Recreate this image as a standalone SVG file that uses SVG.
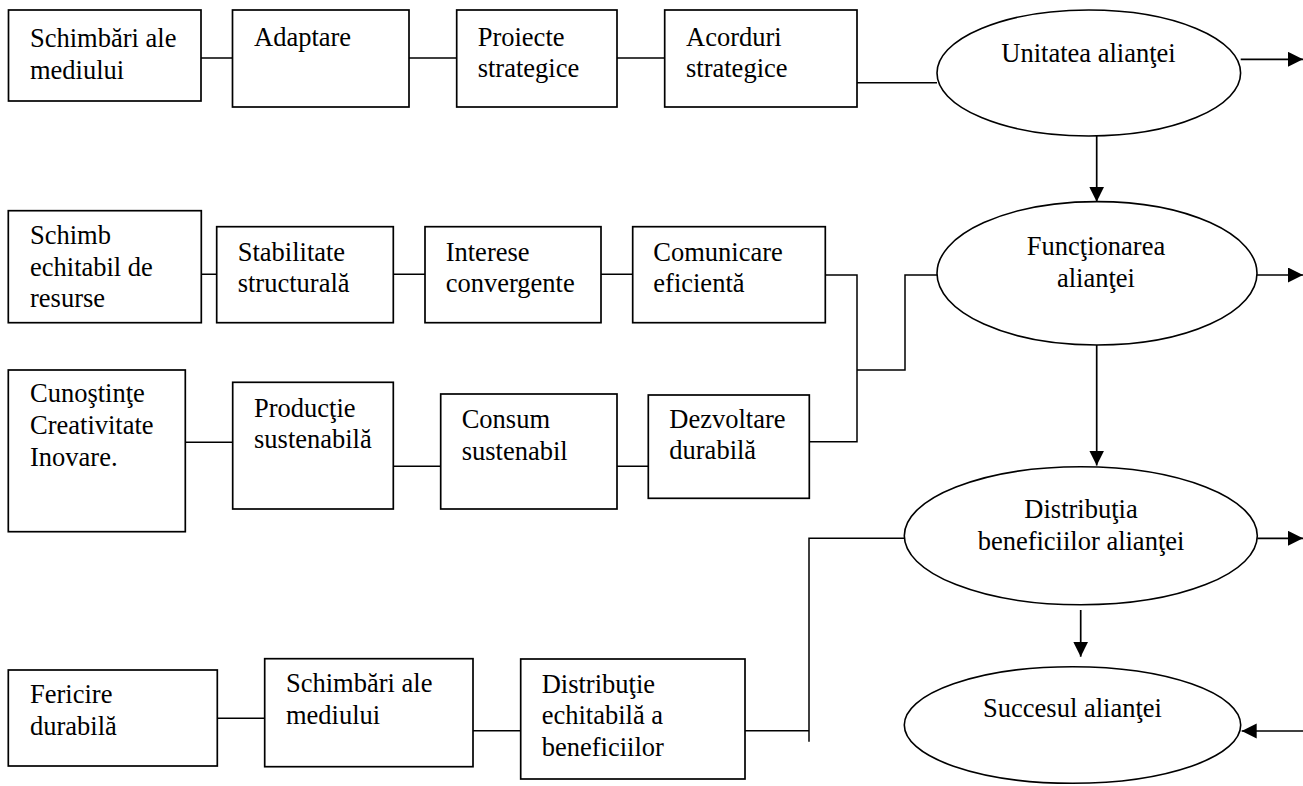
<svg xmlns="http://www.w3.org/2000/svg" width="1303" height="786" viewBox="0 0 1303 786">
<style>
.box{fill:#fff;stroke:#000;stroke-width:1.7}
.ell{fill:#fff;stroke:#000;stroke-width:1.6}
.t{font-family:"Liberation Serif","Times New Roman",serif;font-size:26.5px;fill:#000}
.c{text-anchor:middle}
.ln{fill:none;stroke:#000;stroke-width:1.5}
.ar{fill:none;stroke:#000;stroke-width:1.7;marker-end:url(#ah)}
</style>
<defs>
<marker id="ah" markerUnits="userSpaceOnUse" markerWidth="16" markerHeight="16" refX="15" refY="7.5" orient="auto">
<path d="M0,0 L15,7.5 L0,15 z" fill="#000"/>
</marker>
</defs>
<rect width="1303" height="786" fill="#fff"/>
<g id="connectors">
<path class="ln" d="M201,58 H232.5 M409,58 H457 M617,58 H664.7 M857,82.7 H937"/>
<path class="ln" d="M201.3,274.3 H216.7 M393.3,274.3 H425 M601,274.3 H632.7"/>
<path class="ln" d="M825.3,275 H857 V441.7 H809.3 M857,370 H905 V275 H937"/>
<path class="ln" d="M185.3,442.3 H232.7 M393.3,466.3 H440.7 M617,466.3 H648.3"/>
<path class="ln" d="M217.3,718.3 H264.7 M473,730.7 H520.7 M745,730.7 H809 M809,741.7 V538.3 H904.3"/>
<path class="ar" d="M1240.7,59.3 H1303"/>
<path class="ar" d="M1257,275 H1303"/>
<path class="ar" d="M1257.3,538.3 H1303"/>
<path class="ar" d="M1303,731 H1241.7"/>
<path class="ar" d="M1096.7,130 V201.7"/>
<path class="ar" d="M1096.7,345 V465.5"/>
<path class="ar" d="M1080.7,610 V656.7"/>
</g>
<g id="n1"><rect class="box" x="8.5" y="10" width="192.5" height="91"/><text class="t" x="30" y="46.7">Schimbări ale</text><text class="t" x="30" y="78.5">mediului</text></g>
<g id="n2"><rect class="box" x="232.5" y="10" width="176.5" height="97"/><text class="t" x="254" y="46">Adaptare</text></g>
<g id="n3"><rect class="box" x="456.7" y="10" width="160.3" height="97"/><text class="t" x="477.7" y="45.7">Proiecte</text><text class="t" x="477.7" y="77.3">strategice</text></g>
<g id="n4"><rect class="box" x="664.7" y="10" width="192.3" height="97"/><text class="t" x="686" y="45.7">Acorduri</text><text class="t" x="686" y="77.3">strategice</text></g>
<g id="e1"><ellipse class="ell" cx="1088.8" cy="73" rx="151.8" ry="63"/><text class="t c" x="1088.5" y="61.7">Unitatea alianţei</text></g>
<g id="n5"><rect class="box" x="8.3" y="210.7" width="193" height="112"/><text class="t" x="30" y="244.3">Schimb</text><text class="t" x="30" y="275.7">echitabil de</text><text class="t" x="30" y="306.7">resurse</text></g>
<g id="n6"><rect class="box" x="216.7" y="226.7" width="176.6" height="96"/><text class="t" x="237.7" y="260.7">Stabilitate</text><text class="t" x="237.7" y="292.3">structurală</text></g>
<g id="n7"><rect class="box" x="425" y="226.7" width="176" height="96"/><text class="t" x="445.7" y="260.7">Interese</text><text class="t" x="445.7" y="292.3">convergente</text></g>
<g id="n8"><rect class="box" x="632.7" y="226.7" width="192.6" height="96"/><text class="t" x="653.3" y="260.7">Comunicare</text><text class="t" x="653.3" y="292.3">eficientă</text></g>
<g id="e2"><ellipse class="ell" cx="1097" cy="273.3" rx="160" ry="71.7"/><text class="t c" x="1096" y="255">Funcţionarea</text><text class="t c" x="1096" y="286.7">alianţei</text></g>
<g id="n9"><rect class="box" x="8.3" y="370" width="177" height="161.7"/><text class="t" x="30" y="402.3">Cunoştinţe</text><text class="t" x="30" y="434">Creativitate</text><text class="t" x="30" y="466">Inovare.</text></g>
<g id="n10"><rect class="box" x="232.7" y="382.3" width="160.6" height="126.7"/><text class="t" x="254" y="416.7">Producţie</text><text class="t" x="254" y="447.7">sustenabilă</text></g>
<g id="n11"><rect class="box" x="440.7" y="394" width="176.3" height="115"/><text class="t" x="461.7" y="428.3">Consum</text><text class="t" x="461.7" y="460">sustenabil</text></g>
<g id="n12"><rect class="box" x="648.3" y="395" width="161" height="103.3"/><text class="t" x="669.3" y="428.3">Dezvoltare</text><text class="t" x="669.3" y="459.3">durabilă</text></g>
<g id="e3"><ellipse class="ell" cx="1080.8" cy="535.8" rx="176.5" ry="69"/><text class="t c" x="1081" y="518">Distribuţia</text><text class="t c" x="1081" y="550">beneficiilor alianţei</text></g>
<g id="n13"><rect class="box" x="8.3" y="670" width="209" height="96"/><text class="t" x="30" y="703.3">Fericire</text><text class="t" x="30" y="735">durabilă</text></g>
<g id="n14"><rect class="box" x="264.7" y="658.7" width="208.3" height="108"/><text class="t" x="286" y="691.7">Schimbări ale</text><text class="t" x="286" y="724.3">mediului</text></g>
<g id="n15"><rect class="box" x="520.7" y="659" width="224.3" height="120"/><text class="t" x="541.7" y="692.7">Distribuţie</text><text class="t" x="541.7" y="724">echitabilă a</text><text class="t" x="541.7" y="755.7">beneficiilor</text></g>
<g id="e4"><ellipse class="ell" cx="1072.5" cy="725" rx="168.2" ry="58.3"/><text class="t c" x="1072.5" y="716.7">Succesul alianţei</text></g>
</svg>
